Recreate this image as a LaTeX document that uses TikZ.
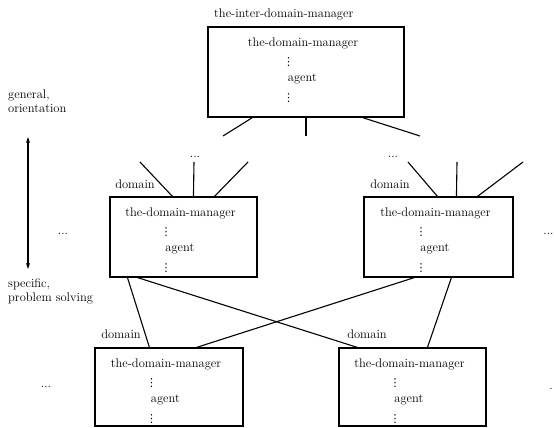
\documentclass[tikz,border=0pt]{standalone}
\usepackage{fontspec}
\newfontfamily\dvfont{DejaVu Sans}
\usetikzlibrary{arrows.meta,calc}
\begin{document}
\begin{tikzpicture}[x=1pt,y=-1pt,
  box/.style={draw, line width=1.1pt, rectangle, inner sep=0pt},
  txt/.style={font=\fontsize{12.5}{15}\selectfont, inner sep=0pt},
  vd/.style={font=\dvfont\fontsize{11}{13}\selectfont, inner sep=0pt},
  ln/.style={line width=1.1pt},
  dbl/.style={line width=1.1pt, {Stealth[length=6pt,width=4pt]}-{Stealth[length=6pt,width=4pt]}}]
\useasboundingbox (0,0) rectangle (554,428);

% boxes
\node[box, minimum width=196pt, minimum height=90pt] (T) at (306,72) {};
\node[box, minimum width=147pt, minimum height=80pt] (ML) at (183.5,237) {};
\node[box, minimum width=149pt, minimum height=80pt] (MR) at (438.5,237) {};
\node[box, minimum width=148pt, minimum height=78pt] (BL) at (169,387) {};
\node[box, minimum width=147pt, minimum height=78pt] (BR) at (412.5,387) {};

% box contents
\foreach \b in {T,ML,MR,BL,BR}{
  \node[txt, anchor=mid] (\b m) at ($(\b.north)+(-3,18)$) {the-domain-manager};
  \node[vd, anchor=center] (\b v1) at ($(\b m.mid west)+(41,18)$) {⋮};
  \node[txt, anchor=mid west] (\b a) at ($(\b m.mid west)+(40,35)$) {agent};
  \node[vd, anchor=center] (\b v2) at ($(\b m.mid west)+(41,54)$) {⋮};
}

% labels
\node[txt, anchor=mid west] (inter) at (214,15) {the-inter-domain-manager};
\node[txt, anchor=mid] (dML) at (135,186) {domain};
\node[txt, anchor=mid] (dMR) at (390,186) {domain};
\node[txt, anchor=mid] (dBL) at (121,336) {domain};
\node[txt, anchor=mid] (dBR) at (367,336) {domain};

\node[txt, anchor=mid west] (gen1) at (8,96) {general,};
\node[txt, anchor=mid west] (gen2) at (8,110) {orientation};
\node[txt, anchor=mid west] (spe1) at (8,285) {specific,};
\node[txt, anchor=mid west] (spe2) at (8,299) {problem solving};

\node[txt, anchor=mid] (d1) at (195,155) {...};
\node[txt, anchor=mid] (d2) at (393,155) {...};
\node[txt, anchor=mid] (d3) at (63,232) {...};
\node[txt, anchor=mid] (d4) at (548.5,232) {...};
\node[txt, anchor=mid] (d5) at (46,385) {...};
\node[txt, anchor=mid] (d6) at (551,387) {.};

% double arrow
\coordinate (a1) at (28,137);
\coordinate (a2) at (28,269);
\draw[dbl] (a1) -- (a2);

% lines below the top box
\coordinate (t1) at (223,136);
\coordinate (t2) at (306,136);
\coordinate (t3) at (420,136);
\draw[ln] ([xshift=45pt]T.south west) -- (t1);
\draw[ln] (T.south) -- (t2);
\draw[ln] ([xshift=155pt]T.south west) -- (t3);

% lines above the middle boxes
\coordinate (l1) at (140,162);
\coordinate (l2) at (194,162);
\coordinate (l3) at (248,162);
\draw[ln] (l1) -- ([xshift=63pt]ML.north west);
\draw[ln] (l2) -- ([xshift=84pt]ML.north west);
\draw[ln] (l3) -- ([xshift=105pt]ML.north west);
\coordinate (r1) at (408,162);
\coordinate (r2) at (457,162);
\coordinate (r3) at (523,162);
\draw[ln] (r1) -- ([xshift=74pt]MR.north west);
\draw[ln] (r2) -- ([xshift=93pt]MR.north west);
\draw[ln] (r3) -- ([xshift=114pt]MR.north west);

% crossing connections
\draw[ln] ([xshift=18pt]ML.south west) -- ([xshift=55pt]BL.north west);
\draw[ln] ([xshift=28pt]ML.south west) -- ([xshift=19pt]BR.north west);
\draw[ln] ([xshift=51pt]MR.south west) -- ([xshift=102pt]BL.north west);
\draw[ln] ([xshift=88pt]MR.south west) -- ([xshift=89pt]BR.north west);
\end{tikzpicture}
\end{document}
